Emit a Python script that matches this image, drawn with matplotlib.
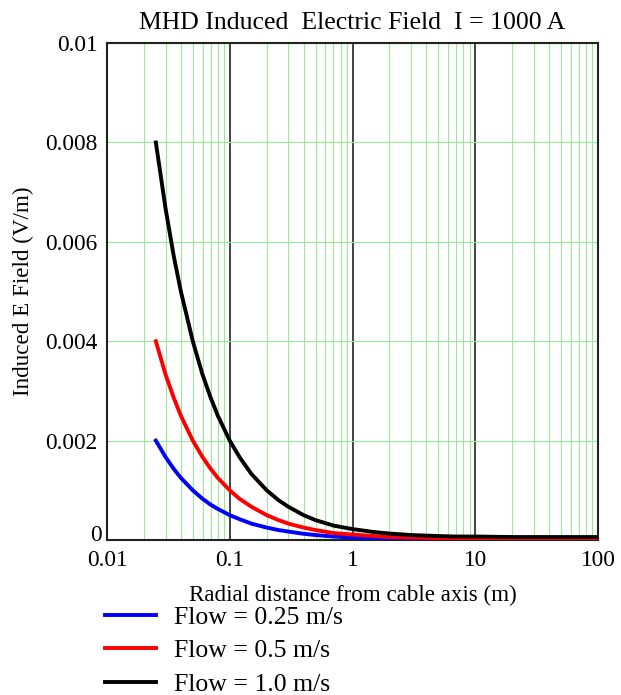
import matplotlib.pyplot as plt
import matplotlib.transforms as mtransforms
from matplotlib.ticker import LogLocator, FixedLocator, NullFormatter
from matplotlib.lines import Line2D

plt.rcParams['font.family'] = ['Liberation Serif', 'DejaVu Serif']

# radial distance (m) and induced field (V/m)
r = [0.025, 0.03, 0.035, 0.04, 0.05, 0.06, 0.07, 0.08, 0.1, 0.12, 0.15, 0.2, 0.25,
     0.3, 0.4, 0.5, 0.7, 1, 1.5, 2, 3, 5, 7, 10, 20, 50, 100]
e_fast = [0.0080, 0.00667, 0.00571, 0.0050, 0.0040, 0.00333, 0.00286, 0.0025, 0.0020,
          0.00167, 0.00133, 0.0010, 0.0008, 0.00067, 0.0005, 0.0004, 0.00029, 0.00022,
          0.00016, 0.00013, 0.0001, 0.00008, 0.00007, 0.00007, 0.00006, 0.00006, 0.00006]
e_mid = [0.0040, 0.00333, 0.00286, 0.0025, 0.0020, 0.00167, 0.00143, 0.00125, 0.0010,
         0.00083, 0.00067, 0.0005, 0.0004, 0.00033, 0.00025, 0.0002, 0.00014, 0.00011,
         0.00008, 0.00006, 0.00005, 0.00004, 0.00004, 0.00003, 0.00003, 0.00003, 0.00003]
e_slow = [0.0020, 0.00167, 0.00143, 0.00125, 0.0010, 0.00083, 0.00071, 0.000625, 0.0005,
          0.00042, 0.00033, 0.00025, 0.0002, 0.00017, 0.000125, 0.0001, 0.00007, 0.00005,
          0.00004, 0.00003, 0.00002, 0.00002, 0.00001, 0.00001, 0.00001, 0.00001, 0.00001]
labels = ['Flow = 0.25 m/s', 'Flow = 0.5 m/s', 'Flow = 1.0 m/s']
colors = ['#0000ff', '#ff0000', '#000000']

fig = plt.figure(figsize=(6.21, 6.95), dpi=100)
ax = fig.add_axes([0.1723, 0.223, 0.7907, 0.715])

ax.set_xscale('log')
ax.set_xlim(0.01, 100)
ax.set_ylim(0, 0.01)

# grid: green minor verticals + horizontals, black decade lines
ax.xaxis.set_minor_locator(LogLocator(base=10, subs=range(2, 10)))
ax.xaxis.set_minor_formatter(NullFormatter())
ax.grid(which='minor', axis='x', color='#9be89b', lw=0.8)
ax.yaxis.set_major_locator(FixedLocator([0, 0.002, 0.004, 0.006, 0.008, 0.01]))
ax.grid(which='major', axis='y', color='#9be89b', lw=0.8)
for xv in [0.1, 1, 10]:
    ax.axvline(xv, color='#222222', lw=1.2, zorder=1.5)

for y, c in zip([e_slow, e_mid, e_fast], colors):
    ax.plot(r, y, color=c, lw=2.8, zorder=3)

ax.set_xticks([0.01, 0.1, 1, 10, 100])
ax.set_xticklabels(['0.01', '0.1', '1', '10', '100'])
ax.set_yticklabels(['0', '0.002', '0.004', '0.006', '0.008', '0.01'])
ax.tick_params(which='both', length=0, labelsize=16.8)
ax.tick_params(axis='x', pad=7)
ax.tick_params(axis='y', pad=7)
for s in ax.spines.values():
    s.set_linewidth(1.5)
    s.set_color('#222222')

# nudge the "0" on the y axis up/right a bit so it clears "0.01"
zero_lbl = ax.get_yticklabels()[0]
zero_lbl.set_transform(zero_lbl.get_transform() +
                       mtransforms.ScaledTranslation(3 / 72, 5 / 72, fig.dpi_scale_trans))

ax.set_title('MHD Induced  Electric Field  I = 1000 A', fontsize=18.5, pad=10)
ax.set_xlabel('Radial distance from cable axis (m)', fontsize=16.6, labelpad=10)
ax.set_ylabel('Induced E Field (V/m)', fontsize=16.6, labelpad=8)

handles = [Line2D([], [], color=c, lw=2.8) for c in colors]
fig.legend(handles, labels, loc='upper left', bbox_to_anchor=(0.169, 0.128),
           frameon=False, fontsize=18.5, handlelength=2.0, handletextpad=0.7,
           labelspacing=0.4, borderpad=0, borderaxespad=0)

fig.savefig('out.png', dpi=100)
